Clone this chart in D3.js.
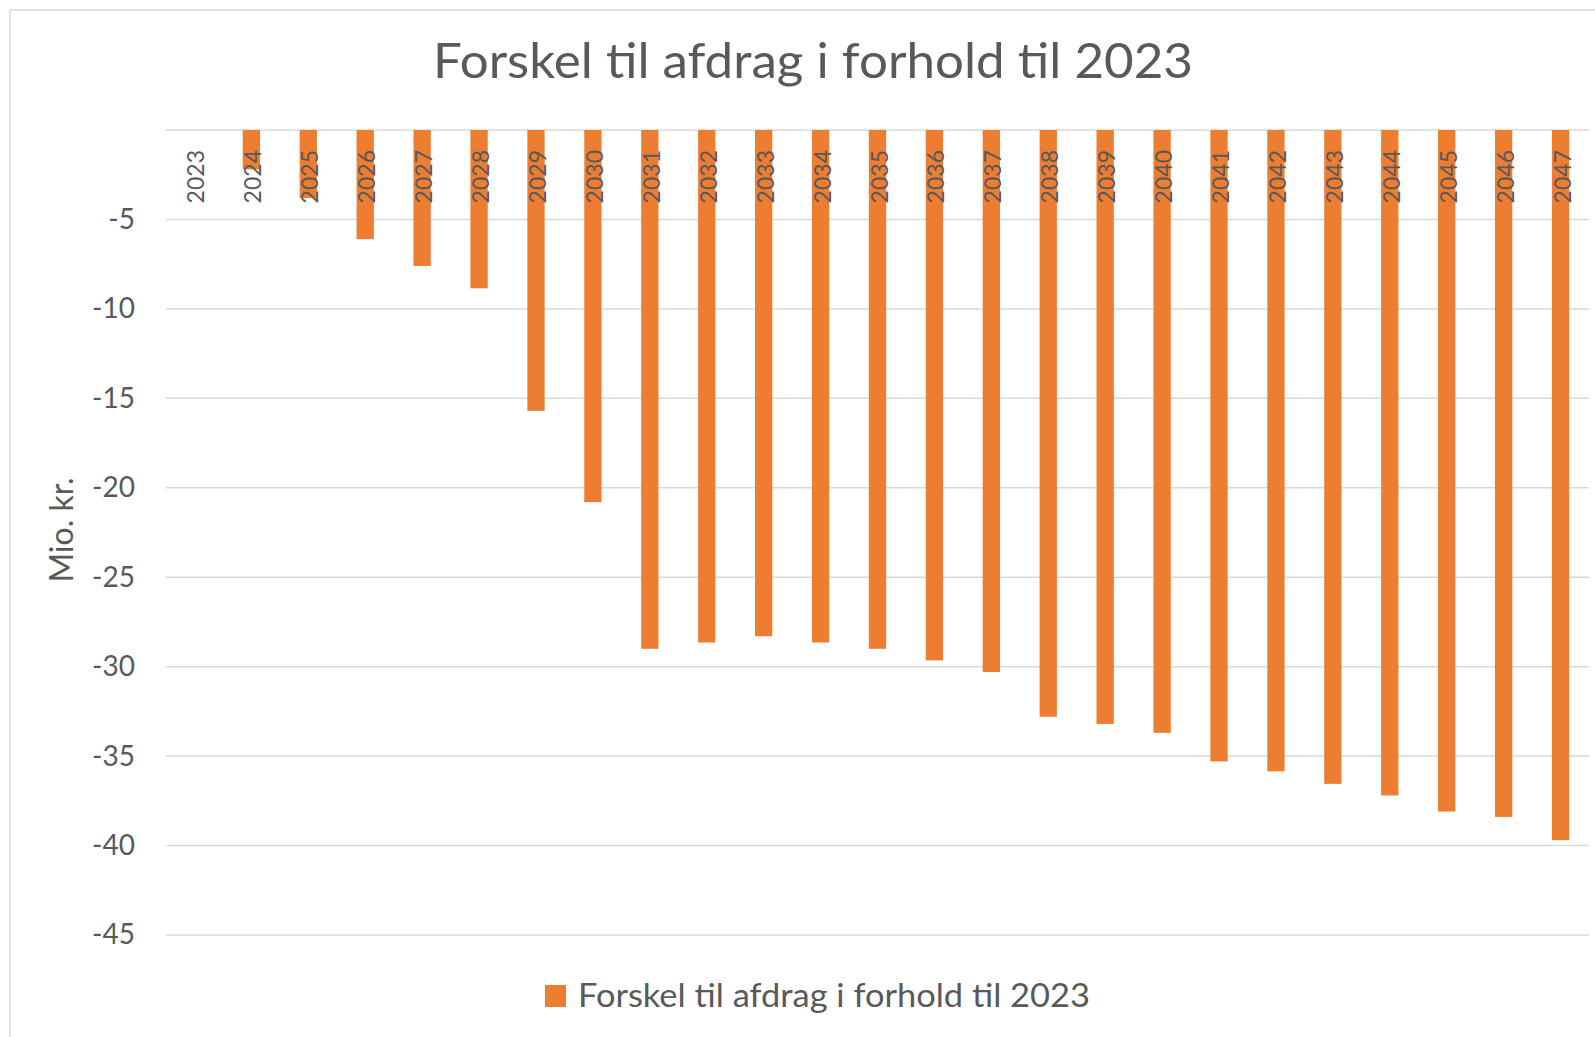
<!DOCTYPE html>
<html>
<head>
<meta charset="utf-8">
<script src="https://cdn.jsdelivr.net/npm/d3@7"></script>
<style>
  html, body { margin: 0; padding: 0; background: #ffffff; }
  svg { display: block; }
  text { font-family: Lato, "Open Sans", "Liberation Sans", sans-serif; fill: #595959; }
</style>
</head>
<body>
<svg id="chart" width="1595" height="1037"></svg>
<script>
const years = ["2023","2024","2025","2026","2027","2028","2029","2030","2031","2032","2033","2034","2035","2036","2037","2038","2039","2040","2041","2042","2043","2044","2045","2046","2047"];
const values = [0, -2.2, -3.8, -6.1, -7.6, -8.85, -15.7, -20.8, -29.0, -28.65, -28.3, -28.65, -29.0, -29.65, -30.3, -32.8, -33.2, -33.7, -35.3, -35.85, -36.55, -37.2, -38.1, -38.4, -39.7];
const gridValues = [0, -5, -10, -15, -20, -25, -30, -35, -40, -45];
const tickLabels = [-5, -10, -15, -20, -25, -30, -35, -40, -45];
const titleText = "Forskel til afdrag i forhold til 2023";
const seriesName = "Forskel til afdrag i forhold til 2023";
const yAxisTitle = "Mio. kr.";

const svg = d3.select("#chart");
const W = 1595, H = 1037;
const plot = { left: 166, right: 1589, top: 130, bottom: 935 };

// chart border (light gray)
svg.append("line").attr("x1", 10).attr("y1", 10).attr("x2", W).attr("y2", 10)
  .attr("stroke", "#d9d9d9").attr("stroke-width", 1.5);
svg.append("line").attr("x1", 10).attr("y1", 10).attr("x2", 10).attr("y2", H)
  .attr("stroke", "#d9d9d9").attr("stroke-width", 1.5);

const x = d3.scaleBand().domain(years).range([plot.left, plot.right])
  .paddingInner(0.696).paddingOuter(0.348);
const y = d3.scaleLinear().domain([0, -45]).range([plot.top, plot.bottom]);

// gridlines
svg.append("g").selectAll("line").data(gridValues).join("line")
  .attr("x1", plot.left).attr("x2", plot.right)
  .attr("y1", d => y(d)).attr("y2", d => y(d))
  .attr("stroke", "#d9d9d9").attr("stroke-width", 1.5);

// y axis labels via d3 axis (hyphen-minus as in the original)
const yAxis = d3.axisLeft(y).tickValues(tickLabels).tickSize(0).tickPadding(0)
  .tickFormat(d => String(d));
const gy = svg.append("g").attr("transform", `translate(${plot.left - 31},0)`).call(yAxis);
gy.select(".domain").remove();
gy.selectAll("text").style("font-size", "28px").style("fill", "#595959")
  .style("font-family", "Lato, 'Open Sans', sans-serif");

// bars
svg.append("g").selectAll("rect").data(years.map((yr, i) => ({ yr, v: values[i] }))).join("rect")
  .attr("x", d => x(d.yr))
  .attr("width", x.bandwidth())
  .attr("y", d => y(Math.max(0, d.v)))
  .attr("height", d => Math.abs(y(d.v) - y(0)))
  .attr("fill", "#ed7d31");

// x category labels (rotated, top near zero line)
svg.append("g").selectAll("text").data(years).join("text")
  .attr("transform", d => `translate(${x(d) + x.bandwidth() / 2 + 1},150) rotate(-90)`)
  .attr("text-anchor", "end")
  .attr("dominant-baseline", "central")
  .style("font-size", "23px")
  .text(d => d);

// title
svg.append("text")
  .attr("x", 433).attr("y", 78)
  .attr("textLength", 760).attr("lengthAdjust", "spacingAndGlyphs")
  .style("font-size", "49px")
  .text(titleText);

// y axis title
svg.append("text")
  .attr("transform", "translate(73,530) rotate(-90)")
  .attr("text-anchor", "middle")
  .style("font-size", "32px")
  .text(yAxisTitle);

// legend
svg.append("rect").attr("x", 545).attr("y", 985).attr("width", 21).attr("height", 22)
  .attr("fill", "#ed7d31");
svg.append("text")
  .attr("x", 578).attr("y", 1007)
  .attr("textLength", 512).attr("lengthAdjust", "spacingAndGlyphs")
  .style("font-size", "32px")
  .text(seriesName);
</script>
</body>
</html>
